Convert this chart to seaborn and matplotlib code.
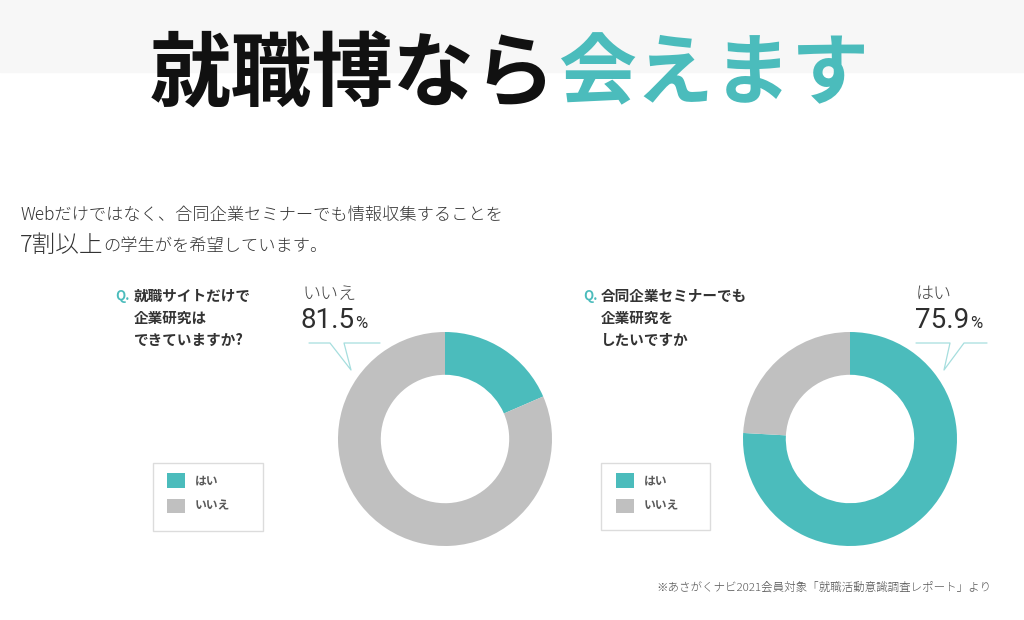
import matplotlib
matplotlib.use("Agg")
import matplotlib.pyplot as plt
from matplotlib.patches import Rectangle
import seaborn as sns

# ---------------- data ----------------
labels = ["はい", "いいえ"]
q1_values = [18.5, 81.5]
q2_values = [75.9, 24.1]
q1_lines = ["就職サイトだけで", "企業研究は", "できていますか?"]
q2_lines = ["合同企業セミナーでも", "企業研究を", "したいですか"]
q1_highlight_label = "いいえ"
q1_highlight_value = 81.5
q2_highlight_label = "はい"
q2_highlight_value = 75.9
title_black = "就職博なら"
title_teal = "会えます"
lead_line1 = "Webだけではなく、合同企業セミナーでも情報収集することを"
lead_big = "7割以上"
lead_rest = "の学生がを希望しています。"
footnote = "※あさがくナビ2021会員対象「就職活動意識調査レポート」より"

TEAL = "#4bbcbc"
GRAY = "#c0c0c0"
LINE = "#a6dede"
TXT = "#333333"

sns.set_theme(style="white")
plt.rcParams["font.family"] = ["Noto Sans CJK JP", "DejaVu Sans"]

W, H = 1024, 620
fig = plt.figure(figsize=(W / 100, H / 100), dpi=100)
fig.patch.set_facecolor("white")

# overlay axes in pixel coordinates (y downward)
ax0 = fig.add_axes([0, 0, 1, 1])
ax0.set_xlim(0, W)
ax0.set_ylim(H, 0)
ax0.axis("off")

# top grey band
ax0.axhspan(0, 72, color="#f7f7f7", zorder=0)

# title
ax0.text(150, 76, title_black, fontsize=58.5, fontweight="bold", color="#111111",
         ha="left", va="center")
ax0.text(558, 76, title_teal, fontsize=56, fontweight="bold", color=TEAL,
         ha="left", va="center")

# lead text
ax0.text(20, 215, lead_line1, fontsize=12.4, color=TXT, ha="left", va="center",
         fontweight="light")
ax0.text(20, 245, lead_big, fontsize=17, color=TXT, ha="left", va="center",
         fontweight="light")
ax0.text(103, 246, lead_rest, fontsize=12.4, color=TXT, ha="left", va="center",
         fontweight="light")


def donut(cx, cy, r, values):
    ax = fig.add_axes([(cx - r) / W, (H - cy - r) / H, 2 * r / W, 2 * r / H])
    wedges, _ = ax.pie(values, colors=[TEAL, GRAY], startangle=90, counterclock=False,
                       radius=1, wedgeprops=dict(width=0.4, linewidth=0))
    ax.set_xlim(-1, 1)
    ax.set_ylim(-1, 1)
    ax.set_aspect("equal")
    ax.axis("off")
    return ax, wedges


ax1, w1 = donut(445, 439, 107, q1_values)
ax2, w2 = donut(850, 439, 107, q2_values)

# questions
def question(xq, xt, lines):
    ys = [296, 318, 340]
    ax0.text(xq, ys[0], "Q.", fontsize=9.5, fontweight="bold", color=TEAL,
             ha="left", va="center")
    for y, s in zip(ys, lines):
        ax0.text(xt, y, s, fontsize=10.5, fontweight="bold", color=TXT,
                 ha="left", va="center")


question(115, 134, q1_lines)
question(583, 601, q2_lines)

fig.canvas.draw()
renderer = fig.canvas.get_renderer()


def highlight(x, label, value):
    ax0.text(x, 294, label, fontsize=13, color="#444444", ha="left", va="center",
             fontweight="light")
    t = ax0.text(x - 1, 321, f"{value:.1f}", fontsize=20, color="#2e2e2e",
                 family=["Roboto", "DejaVu Sans"], fontweight="normal",
                 ha="left", va="center")
    bb = t.get_window_extent(renderer=renderer)
    x_end = ax0.transData.inverted().transform((bb.x1, bb.y0))[0]
    ax0.text(x_end + 0.5, 324, "%", fontsize=12, color="#2e2e2e",
             family=["Roboto", "DejaVu Sans"], fontweight="normal",
             ha="left", va="center")


highlight(302, q1_highlight_label, q1_highlight_value)
highlight(916, q2_highlight_label, q2_highlight_value)

# callout lines
ax0.plot([309, 330, 351, 344, 380], [343, 343, 370, 343, 343], color=LINE, lw=0.9)
ax0.plot([916, 950, 944, 964, 987], [343, 343, 370, 343, 343], color=LINE, lw=0.9)

# legends
def legend_box(ax, wedges, x0, y0, w, h, hx, hy):
    ax0.add_patch(Rectangle((x0, y0), w, h, fill=False, ec="#dcdcdc", lw=1.0))
    fs = 8.5
    px = fs / 72 * 100
    leg = ax.legend(wedges, labels, loc="upper left", bbox_to_anchor=(hx, hy),
                    bbox_transform=ax0.transData, frameon=False, borderpad=0,
                    borderaxespad=0, handlelength=18 / px, handleheight=18 / px,
                    labelspacing=(29 - 18) / px, handletextpad=10 / px,
                    prop=dict(family=["Noto Sans CJK JP", "DejaVu Sans"],
                              size=fs, weight="bold"), labelcolor="#5a5a5a")
    return leg


legend_box(ax1, w1, 153, 463, 110, 68, 167, 473)
legend_box(ax2, w2, 601, 463, 109, 67, 616, 473)

# footnote
ax0.text(656, 588, footnote, fontsize=8.3, color="#555555", ha="left", va="center",
         fontweight="light")

fig.savefig("out.png", dpi=100, facecolor="white")
